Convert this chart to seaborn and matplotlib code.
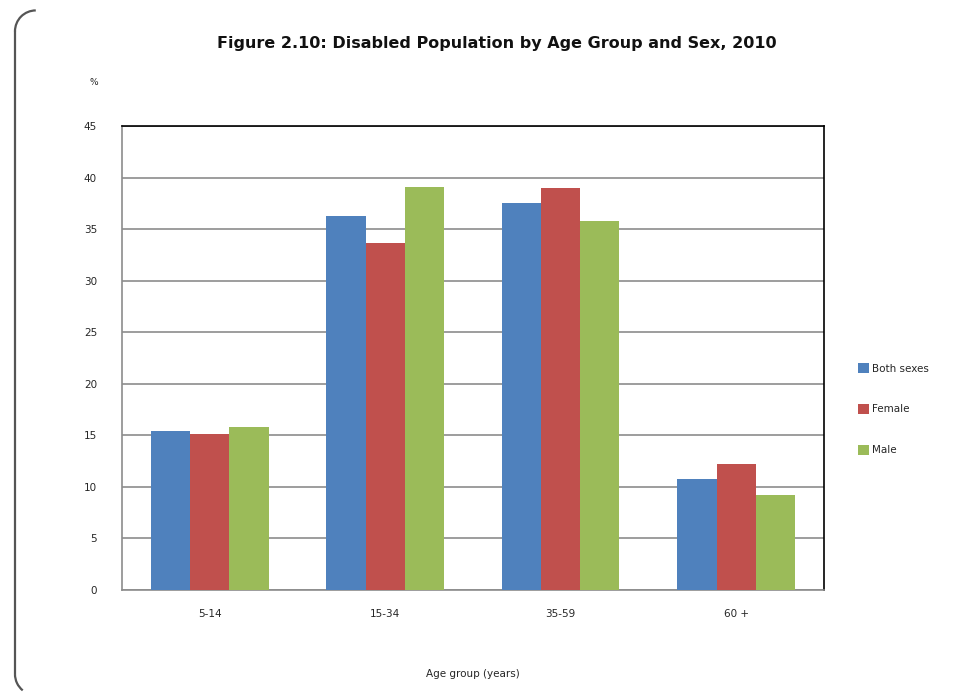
import pandas as pd
import seaborn as sns
import matplotlib.pyplot as plt
from matplotlib.lines import Line2D
from matplotlib.patches import Arc

# values
age_groups = ['5-14', '15-34', '35-59', '60 +']
both_sexes = [15.45, 36.3, 37.5, 10.75]
female = [15.1, 33.7, 39.0, 12.2]
male = [15.8, 39.1, 35.75, 9.25]
series_names = ['Both sexes', 'Female', 'Male']
y_ticks = [0, 5, 10, 15, 20, 25, 30, 35, 40, 45]

colors = ['#4F81BD', '#C0504D', '#9BBB59']


def build_frame():
    rows = []
    for name, vals in zip(series_names, [both_sexes, female, male]):
        for grp, v in zip(age_groups, vals):
            rows.append({'Age group': grp, 'Sex': name, 'Percent': v})
    return pd.DataFrame(rows)


def disabled_chart():
    data = build_frame()

    sns.set_style("white")
    plt.rcParams['font.family'] = ['DejaVu Sans']

    fig = plt.figure(figsize=(9.67, 6.95), dpi=100)
    ax = fig.add_axes([0.1262, 0.1511, 0.7258, 0.6676])

    sns.barplot(data=data, x='Age group', y='Percent', hue='Sex',
                order=age_groups, hue_order=series_names, palette=colors,
                width=0.67, saturation=1, linewidth=0, ax=ax, zorder=3)

    # axis ranges and grid
    ax.set_ylim(0, 45)
    ax.set_xlim(-0.5, 3.5)
    ax.set_yticks(y_ticks)
    ax.set_yticklabels([str(t) for t in y_ticks], fontsize=7.5)
    ax.yaxis.grid(True, color='#8c8c8c', linewidth=1.2, zorder=0)
    ax.set_axisbelow(True)

    # category labels centred, tick marks at the boundaries
    ax.set_xticks(range(len(age_groups)))
    ax.set_xticklabels(age_groups, fontsize=7.5)
    ax.set_xticks([i - 0.5 for i in range(len(age_groups) + 1)], minor=True)
    ax.tick_params(axis='x', which='major', length=0, pad=14)
    ax.tick_params(axis='x', which='minor', length=6, width=1.2,
                   color='#8c8c8c', direction='out')
    ax.tick_params(axis='y', which='major', length=6, width=1.2,
                   color='#8c8c8c', direction='out', pad=12)

    for side in ['left', 'bottom']:
        ax.spines[side].set_color('#8c8c8c')
        ax.spines[side].set_linewidth(1.2)
    for side in ['top', 'right']:
        ax.spines[side].set_color('black')
        ax.spines[side].set_linewidth(1.2)

    ax.set_xlabel('Age group (years)', fontsize=7.5, labelpad=36)
    ax.set_ylabel('')

    fig.text(0.097, 0.882, '%', fontsize=6.5, ha='center', va='center')
    fig.text(0.514, 0.938, 'Figure 2.10: Disabled Population by Age Group and Sex, 2010',
             fontsize=11.5, fontweight='bold', ha='center', va='center', color='#111111')

    # legend to the right of the plot
    leg = ax.legend(loc='center left', bbox_to_anchor=(1.035, 0.39), frameon=False,
                    fontsize=7.5, labelspacing=2.9, handlelength=1.1,
                    handleheight=1.1, handletextpad=0.3)
    for h in leg.legend_handles:
        h.set_edgecolor('none')

    # left edge of the page border with rounded corners
    fig.add_artist(Line2D([0.0155, 0.0155], [0.03, 0.955], transform=fig.transFigure,
                          color='#555555', linewidth=1.6))
    fig.add_artist(Arc((0.037, 0.955), 0.043, 0.06, theta1=90, theta2=180,
                       transform=fig.transFigure, color='#555555', linewidth=1.6))
    fig.add_artist(Arc((0.037, 0.03), 0.043, 0.06, theta1=180, theta2=240,
                       transform=fig.transFigure, color='#555555', linewidth=1.6))

    fig.savefig('out.png', dpi=100)


if __name__ == '__main__':
    disabled_chart()
